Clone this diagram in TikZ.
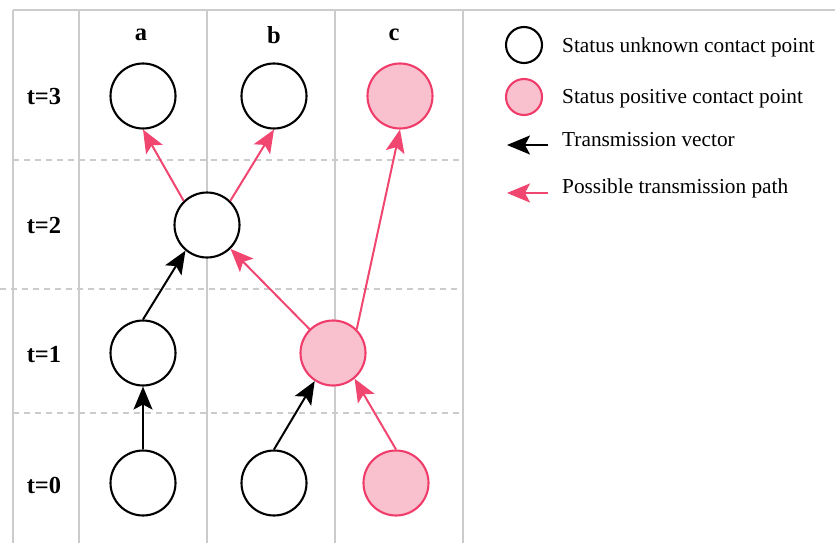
\documentclass[tikz,border=0pt]{standalone}
\usepackage{fontspec}
\setmainfont{Liberation Serif}
\usetikzlibrary{arrows.meta}

\definecolor{gridgrey}{HTML}{CCCCCC}
\definecolor{pinkline}{HTML}{F03C6A}
\definecolor{pinkarrow}{HTML}{F0466F}
\definecolor{pinkfill}{HTML}{F9C1CE}

\tikzset{
  unknownpt/.style={circle, draw=black, fill=white, line width=2.1pt,
    minimum size=65pt, inner sep=0pt},
  positivept/.style={circle, draw=pinkline, fill=pinkfill, line width=2.1pt,
    minimum size=65pt, inner sep=0pt},
  legunknown/.style={unknownpt, minimum size=36pt},
  legpositive/.style={positivept, minimum size=36pt},
  vector/.style={draw=black, line width=2pt,
    arrows={-Stealth[length=23pt, width=19pt, inset=5pt]}},
  possible/.style={draw=pinkarrow, line width=2pt,
    arrows={-Stealth[length=23pt, width=19pt, inset=5pt]}},
  gridline/.style={draw=gridgrey, line width=1.6pt},
  rowsep/.style={draw=gridgrey, line width=1.6pt, dash pattern=on 6pt off 5pt},
  rowlabel/.style={font=\fontsize{24.5}{28}\selectfont\bfseries, inner sep=0pt},
  leglabel/.style={font=\fontsize{21.3}{25}\selectfont, anchor=west, inner sep=0pt},
}

\begin{document}
\begin{tikzpicture}[x=1pt, y=-1pt]
  \useasboundingbox (0,0) rectangle (835,543);

  % table frame
  \draw[gridline] (13,10) -- (835,10);
  \foreach \x in {13,79,207,335,463}
    \draw[gridline] (\x,10) -- (\x,543);

  % time step separators
  \draw[rowsep] (13,160) -- (460,160);
  \draw[rowsep] (0,289) -- (460,289);
  \draw[rowsep] (13,413) -- (460,413);

  % column headers
  \node[rowlabel] (ha) at (141,35) {a};
  \node[rowlabel] (hb) at (274,35) {b};
  \node[rowlabel] (hc) at (394,35) {c};

  % row labels
  \node[rowlabel] (t3) at (44,97) {t=3};
  \node[rowlabel] (t2) at (44,226) {t=2};
  \node[rowlabel] (t1) at (44,355) {t=1};
  \node[rowlabel] (t0) at (44,485) {t=0};

  % contact points
  \node[unknownpt]  (a3) at (143,96) {};
  \node[unknownpt]  (b3) at (274,96) {};
  \node[positivept] (c3) at (400,96) {};
  \node[unknownpt]  (x2) at (207,225) {};
  \node[unknownpt]  (a1) at (143,353) {};
  \node[positivept] (p1) at (333,353) {};
  \node[unknownpt]  (a0) at (143,483) {};
  \node[unknownpt]  (b0) at (274,483) {};
  \node[positivept] (c0) at (396,483) {};

  % transmission vectors
  \draw[vector] (a0.north) -- (a1.south);
  \draw[vector] (a1.north) -- (x2.230);
  \draw[vector] (b0.north) -- (p1.237);

  % possible transmission paths
  \draw[possible] (c0.north) -- (p1.310);
  \draw[possible] (p1) -- (x2);
  \draw[possible] (p1.45) -- (c3.south);
  \draw[possible] (x2.134) -- (a3.south);
  \draw[possible] (x2.46) -- (b3.south);

  % legend
  \node[legunknown]  (lu) at (524,45) {};
  \node[legpositive] (lp) at (524,97) {};
  \coordinate (lvs) at (548,145);
  \coordinate (lve) at (507,145);
  \coordinate (lps) at (548,193);
  \coordinate (lpe) at (507,193);
  \draw[vector] (lvs) -- (lve);
  \draw[possible] (lps) -- (lpe);
  \node[leglabel] (lut) at (562,47) {Status unknown contact point};
  \node[leglabel] (lpt) at (562,99) {Status positive contact point};
  \node[leglabel] (lvt) at (562,140) {Transmission vector};
  \node[leglabel] (lpp) at (562,188) {Possible transmission path};
\end{tikzpicture}
\end{document}
